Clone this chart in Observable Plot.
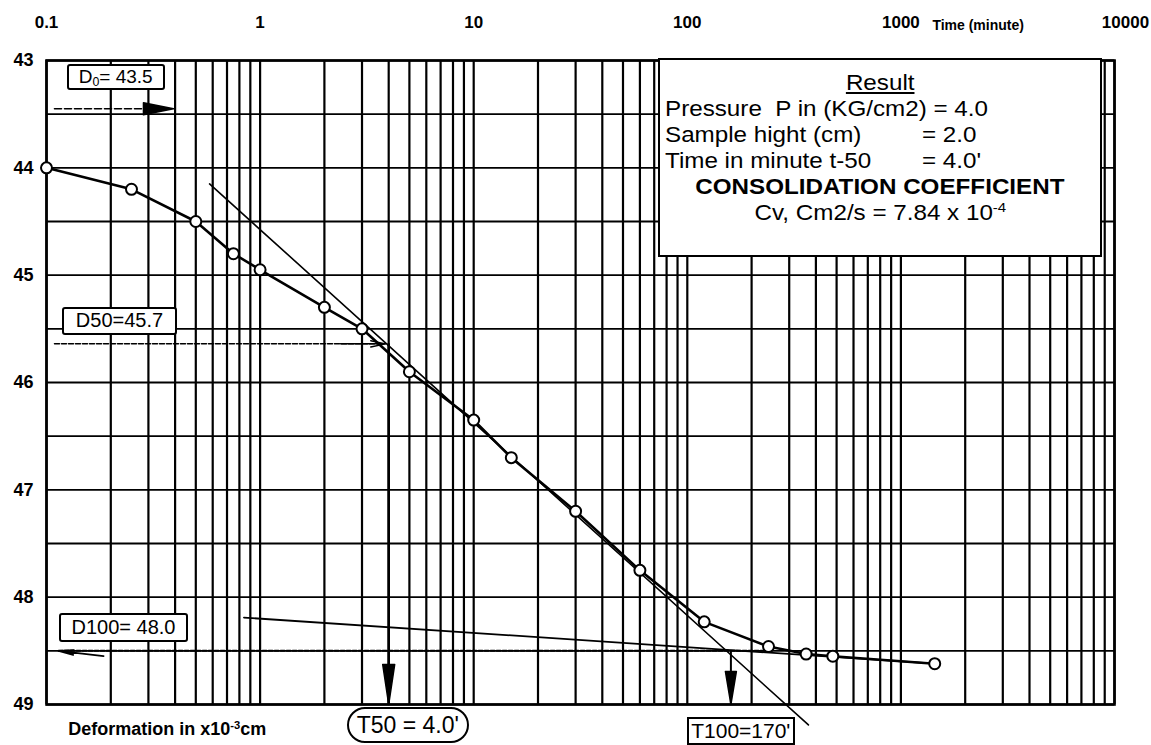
<!DOCTYPE html>
<html><head><meta charset="utf-8">
<script src="https://cdn.jsdelivr.net/npm/d3@7"></script>
<script src="https://cdn.jsdelivr.net/npm/@observablehq/plot@0.6"></script>
<style>
body{margin:0;background:#fff;font-family:"Liberation Sans",Arial,sans-serif;color:#000;}
#wrap{position:relative;width:1151px;height:745px;overflow:hidden;background:#fff;}
.box{position:absolute;background:#fff;border:2px solid #000;white-space:nowrap;box-sizing:border-box;display:flex;align-items:center;justify-content:center;}
.plain{position:absolute;white-space:nowrap;}
#result{display:block;padding-top:10px;font-size:22px;line-height:26px;}
#result .row{position:relative;height:26px;padding-left:5px;}
#result .c{text-align:center;padding-left:0;}
#result .s{display:inline-block;transform:scaleX(1.1);transform-origin:left center;}
#result .c .s{transform-origin:center center;}
#result .v{position:absolute;left:262px;top:0;}
sup{font-size:62%;vertical-align:0;position:relative;top:-0.55em;}
sub{font-size:65%;vertical-align:0;position:relative;top:0.35em;}
</style></head><body><div id="wrap"></div><script>
// ---- data ----
const times = [0.1, 0.25, 0.5, 0.75, 1, 2, 3, 5, 10, 15, 30, 60, 120, 240, 360, 480, 1440];
const deformation = [44.0, 44.2, 44.5, 44.8, 44.95, 45.3, 45.5, 45.9, 46.35, 46.7, 47.2, 47.75, 48.23, 48.46, 48.53, 48.55, 48.62];
const xTicks = [0.1, 1, 10, 100, 1000];
const xTickLabels = ["0.1", "1", "10", "100", "1000"];
const xLastTick = [10000];
const xLastTickLabel = "10000";
const yTicks = [43, 44, 45, 46, 47, 48, 49];
const yGrid = [43, 43.5, 44, 44.5, 45, 45.5, 46, 46.5, 47, 47.5, 48, 48.5, 49];
const xGridMultipliers = [1, 2, 3, 4, 5, 6, 7, 8, 9];
const xGridDecades = [0.1, 1, 10, 100, 1000];
// construction lines (Casagrande method)
const steepTangentT = [0.58, 369];
const steepTangentD = [44.15, 49.19];
const tailTangentT = [0.84, 1440];
const tailTangentD = [48.19, 48.62];
const d0Level = 43.45, d0LineT = [0.109, 0.284], d0HeadT = 0.393;
const d50Level = 45.64, d50LineT = [0.109, 3.86], d50ArrowT = [2.38, 3.86];
const d100Level = 48.5, d100LineT = [0.114, 245], d100ArrowT = [0.185, 0.114], d100ArrowD = [48.55, 48.5];
const t50 = 4, t100 = 160;
const timeAxisLabel = ["Time (minute)"], timeAxisLabelT = [2300];

const gridX = [];
for (const dec of xGridDecades) for (const m of xGridMultipliers) gridX.push(dec * m);
gridX.push(10000);

const pts = times.map((t, i) => ({t, d: deformation[i]}));
const lineOf = (ts, ds) => ts.map((t, i) => ({t, d: ds[i]}));

const tri = {draw(ctx, l, r) { ctx.moveTo(0, -l); ctx.lineTo(r, 0); ctx.lineTo(-r, 0); ctx.closePath(); }};

const chart = Plot.plot({
  width: 1151, height: 745,
  marginLeft: 46, marginRight: 37, marginTop: 60, marginBottom: 41,
  x: {type: "log", domain: [0.1, 10000]},
  y: {domain: [43, 49], reverse: true},
  style: {fontFamily: "Liberation Sans, Arial, sans-serif", background: "white", overflow: "visible", color: "black"},
  marks: [
    Plot.ruleX(gridX, {stroke: "#000", strokeWidth: 2.2}),
    Plot.ruleY(yGrid, {stroke: "#000", strokeWidth: 1.8}),
    Plot.frame({stroke: "#000", strokeWidth: 2.6}),
    Plot.axisY(yTicks, {anchor: "left", tickSize: 0, tickPadding: 13, fontSize: 18, fontWeight: "bold", label: null, tickFormat: d => String(d)}),
    Plot.axisX(xTicks, {anchor: "top", tickSize: 0, tickPadding: 33, fontSize: 17, fontWeight: "bold", label: null,
      tickFormat: d => xTickLabels[xTicks.indexOf(d)]}),
    Plot.axisX(xLastTick, {anchor: "top", tickSize: 0, tickPadding: 33, fontSize: 17, fontWeight: "bold", label: null, dx: 11,
      tickFormat: () => xLastTickLabel}),
    Plot.text(timeAxisLabel, {x: timeAxisLabelT, text: d => d, frameAnchor: "top", dy: -40, fontSize: 14, fontWeight: "bold"}),
    // tangents
    Plot.line(lineOf(steepTangentT, steepTangentD), {x: "t", y: "d", stroke: "#000", strokeWidth: 1.6}),
    Plot.line(lineOf(tailTangentT, tailTangentD), {x: "t", y: "d", stroke: "#000", strokeWidth: 1.8}),
    // D0
    Plot.line(d0LineT.map(t => ({t, d: d0Level})), {x: "t", y: "d", stroke: "#000", strokeWidth: 1.6, strokeDasharray: "7,3"}),
    Plot.vector([{t: d0HeadT, d: d0Level}], {x: "t", y: "d", length: 30, rotate: 90, anchor: "end", shape: tri, r: 6, fill: "#000", stroke: "#000"}),
    // D50
    Plot.line(d50LineT.map(t => ({t, d: d50Level})), {x: "t", y: "d", stroke: "#000", strokeWidth: 1.5, strokeDasharray: "5,2"}),
    Plot.arrow([0], {x1: d50ArrowT[0], y1: d50Level, x2: d50ArrowT[1], y2: d50Level, headLength: 36, headAngle: 24, stroke: "#000", strokeWidth: 1.5}),
    // D100
    Plot.line(d100LineT.map(t => ({t, d: d100Level})), {x: "t", y: "d", stroke: "#000", strokeWidth: 2, strokeDasharray: "4,2"}),
    Plot.arrow([0], {x1: d100ArrowT[0], y1: d100ArrowD[0], x2: d100ArrowT[1], y2: d100ArrowD[1], headLength: 42, headAngle: 18, stroke: "#000", strokeWidth: 1.8}),
    // T50 and T100 arrows
    Plot.ruleX([t50], {y1: d50Level, y2: 49, stroke: "#000", strokeWidth: 2.6}),
    Plot.vector([{t: t50, d: 49}], {x: "t", y: "d", length: 40, rotate: 180, anchor: "end", shape: tri, r: 6, fill: "#000", stroke: "#000"}),
    Plot.ruleX([t100], {y1: d100Level, y2: 49, stroke: "#000", strokeWidth: 2}),
    Plot.vector([{t: t100, d: 49}], {x: "t", y: "d", length: 33, rotate: 180, anchor: "end", shape: tri, r: 5.5, fill: "#000", stroke: "#000"}),
    // consolidation curve
    Plot.line(pts, {x: "t", y: "d", stroke: "#000", strokeWidth: 2.6}),
    Plot.dot(pts, {x: "t", y: "d", r: 5.5, fill: "#fff", stroke: "#000", strokeWidth: 2})
  ]
});

const wrap = document.getElementById("wrap");
wrap.appendChild(chart);
const sx = chart.scale("x"), sy = chart.scale("y");

// annotation boxes anchored (top-left) in data coordinates
const annotations = [
  {t: 0.125, d: 43.04, w: 98, h: 26, fs: 19, radius: 3, html: "D<sub>0</sub> = 43.5"},
  {t: 0.1188, d: 45.30, w: 115, h: 28, fs: 20, radius: 3, html: "D50=45.7"},
  {t: 0.115, d: 48.15, w: 129, h: 29, fs: 20, radius: 3, html: "D100= 48.0"},
  {t: 2.56, d: 49.03, w: 122, h: 36, fs: 23, radius: 18, html: "T50 = 4.0'"},
  {t: 100, d: 49.12, w: 108, h: 28, fs: 21, radius: 0, html: "T100=170'"}
];
for (const a of annotations) {
  const el = document.createElement("div");
  el.className = "box";
  el.style.left = sx.apply(a.t) + "px";
  el.style.top = sy.apply(a.d) + "px";
  el.style.width = a.w + "px";
  el.style.height = a.h + "px";
  el.style.fontSize = a.fs + "px";
  el.style.borderRadius = a.radius + "px";
  el.innerHTML = a.html;
  wrap.appendChild(el);
}

const deformLabel = document.createElement("div");
deformLabel.className = "plain";
deformLabel.style.left = sx.apply(0.127) + "px";
deformLabel.style.top = (sy.apply(49.24) - 11) + "px";
deformLabel.style.fontSize = "18px";
deformLabel.style.fontWeight = "bold";
deformLabel.innerHTML = "Deformation in x10<sup>-3</sup>cm";
wrap.appendChild(deformLabel);

const result = document.createElement("div");
result.className = "box";
result.id = "result";
result.style.left = sx.apply(73.3) + "px";
result.style.top = sy.apply(42.98) + "px";
result.style.width = "444px";
result.style.height = "199px";
result.innerHTML = `
  <div class="row c"><span class="s" style="text-decoration:underline">Result</span></div>
  <div class="row"><span class="s">Pressure&nbsp; P in (KG/cm2) = 4.0</span></div>
  <div class="row"><span class="s">Sample hight (cm)</span><span class="s v">= 2.0</span></div>
  <div class="row"><span class="s">Time in minute t-50</span><span class="s v">= 4.0'</span></div>
  <div class="row c"><span class="s" style="font-weight:bold">CONSOLIDATION COEFFICIENT</span></div>
  <div class="row c"><span class="s">Cv, Cm2/s = 7.84 x 10<sup>-4</sup></span></div>`;
wrap.appendChild(result);
</script></body></html>
